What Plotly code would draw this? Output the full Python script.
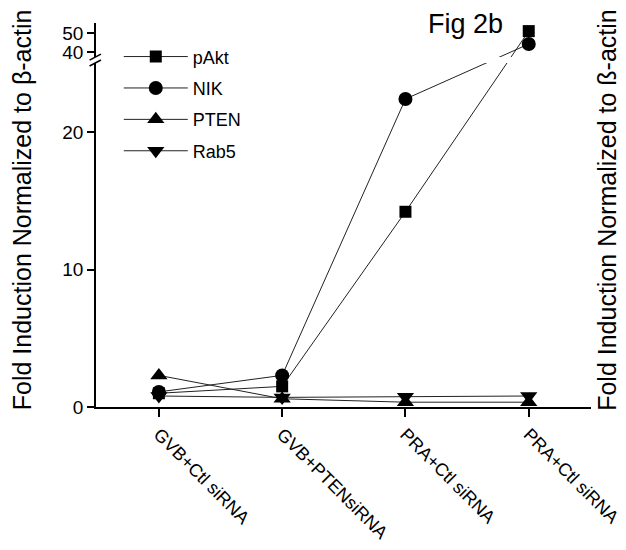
import plotly.graph_objects as go

categories = ["GVB+Ctl siRNA", "GVB+PTENsiRNA", "PRA+Ctl siRNA", "PRA+Ctl siRNA"]
pakt = [1.0, 1.5, 14.2, 51.0]
nik = [1.1, 2.3, 22.4, 44.2]
pten = [2.3, 0.6, 0.35, 0.35]
rab5 = [0.8, 0.7, 0.75, 0.8]
ytick_labels = [0, 10, 20, 40, 50]

# broken-axis transform: lower segment 0-25 linear, upper segment 40-50 compressed
LOW_TOP = 25.0
UP_BASE = 25.82
UP_SCALE = 0.1382


def tf(v):
    return v if v <= LOW_TOP else UP_BASE + (v - 40) * UP_SCALE


xs = list(range(len(categories)))
series = [
    ("pAkt", pakt, "square", 12),
    ("NIK", nik, "circle", 14),
    ("PTEN", pten, "triangle-up", 15),
    ("Rab5", rab5, "triangle-down", 15),
]

fig = go.Figure()
for name, vals, sym, sz in series:
    fig.add_trace(go.Scatter(
        x=xs, y=[tf(v) for v in vals], name=name, legendgroup=name, mode="lines+markers",
        line=dict(color="#222222", width=1),
        marker=dict(symbol=sym, size=sz, color="black", line=dict(width=0)),
        cliponaxis=False,
    ))

FONT = "Liberation Sans, Arial, sans-serif"
brk_lo, brk_hi = 25.02, 25.45
shapes = [
    dict(type="rect", xref="paper", yref="y", x0=-0.03, x1=1.0, y0=brk_lo, y1=brk_hi,
         fillcolor="white", line=dict(width=0), layer="above"),
    dict(type="line", xref="paper", yref="y", x0=-0.013, x1=0.010, y0=brk_hi - 0.22, y1=brk_hi + 0.22,
         line=dict(color="black", width=1.5), layer="above"),
    dict(type="line", xref="paper", yref="y", x0=-0.013, x1=0.010, y0=brk_lo - 0.22, y1=brk_lo + 0.22,
         line=dict(color="black", width=1.5), layer="above"),
]

fig.update_layout(
    width=626, height=550,
    margin=dict(l=88, r=41, t=15, b=151),
    paper_bgcolor="white", plot_bgcolor="white",
    font=dict(family=FONT, color="black"),
    showlegend=True,
    legend=dict(x=0.046, y=0.96, xanchor="left", yanchor="top",
                font=dict(size=18, family=FONT), itemwidth=64,
                bgcolor="rgba(0,0,0,0)", tracegroupgap=5),
    xaxis=dict(range=[-0.51, 3.505], tickvals=xs, ticktext=categories, tickangle=45,
               showline=True, linecolor="black", linewidth=1.5, ticks="outside",
               ticklen=8, tickwidth=1.5, tickcolor="black", showgrid=False, zeroline=False,
               tickfont=dict(size=18, family=FONT)),
    yaxis=dict(range=[0, 27.93], tickvals=[tf(v) for v in ytick_labels],
               ticktext=[str(v) for v in ytick_labels],
               showline=True, linecolor="black", linewidth=1.5, ticks="outside",
               ticklen=7, tickwidth=1.5, tickcolor="black", showgrid=False, zeroline=False,
               tickfont=dict(size=19, family=FONT)),
    shapes=shapes,
    annotations=[
        dict(text="Fig 2b", xref="paper", yref="paper", x=0.746, y=0.997,
             xanchor="center", yanchor="middle", showarrow=False,
             font=dict(size=27, family=FONT)),
        dict(text="Fold Induction Normalized to β-actin", xref="paper", yref="paper",
             x=-0.149, y=0.513, xanchor="center", yanchor="middle", textangle=-90,
             showarrow=False, font=dict(size=25, family=FONT)),
        dict(text="Fold Induction Normalized to ß-actin", xref="paper", yref="paper",
             x=1.032, y=0.513, xanchor="center", yanchor="middle", textangle=-90,
             showarrow=False, font=dict(size=25, family=FONT)),
    ],
)

fig.write_html("out.html")
